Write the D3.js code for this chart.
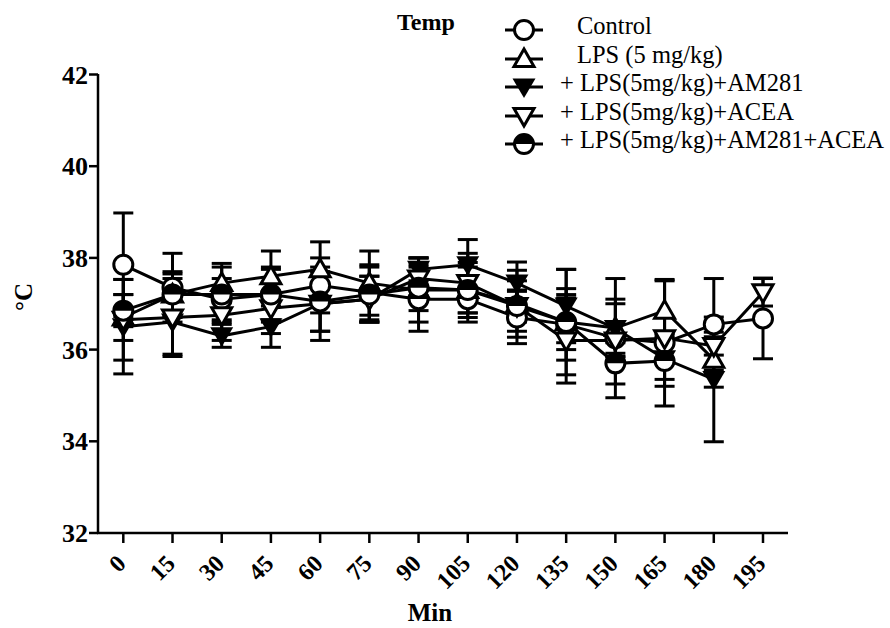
<!DOCTYPE html>
<html>
<head>
<meta charset="utf-8">
<script src="https://cdn.jsdelivr.net/npm/d3@7"></script>
<style>
body{margin:0;background:#fff;}
svg{display:block;}
</style>
</head>
<body>
<div id="container"></div>
<script>
let w=890;
let h=628;

// time points (min)
let minutes=[0,15,30,45,60,75,90,105,120,135,150,165,180,195];
let yTicks=[32,34,36,38,40,42];

// series means and SEM
let controlMean=[37.85,37.35,37.1,37.2,37.4,37.25,37.1,37.1,36.7,36.55,36.25,36.15,36.55,36.68];
let controlSem=[1.13,0.75,0.45,0.55,0.6,0.6,0.7,0.5,0.57,0.78,1.3,1.38,1.0,0.88];
let lpsMean=[36.7,37.2,37.45,37.6,37.75,37.45,37.3,37.3,37.0,36.6,36.47,36.85,35.78];
let lpsSem=[0.5,0.45,0.43,0.55,0.6,0.7,0.7,0.5,0.73,0.6,0.63,0.65,0.6];
let am281Mean=[36.5,36.6,36.3,36.5,37.0,37.1,37.75,37.85,37.45,36.95,36.46,35.8,35.35];
let am281Sem=[1.03,0.7,0.25,0.45,0.6,0.5,0.25,0.55,0.46,0.8,0.54,0.45,1.36];
let aceaMean=[36.65,36.7,36.75,36.9,37.0,37.1,37.55,37.45,36.95,36.2,36.2,36.25,36.08,37.25];
let aceaSem=[0.88,0.85,0.55,0.55,0.8,0.5,0.45,0.65,0.55,0.93,0.35,0.1,0.2,0.3];
let comboMean=[36.85,37.2,37.2,37.2,37.05,37.2,37.35,37.3,36.95,36.6,35.7,35.75];
let comboSem=[0.35,0.5,0.6,0.6,0.65,0.6,0.5,0.6,0.35,1.15,0.45,0.55];

let labels=["Control","LPS (5 mg/kg)","+ LPS(5mg/kg)+AM281","+ LPS(5mg/kg)+ACEA","+ LPS(5mg/kg)+AM281+ACEA"];
let symbols=["circle","triUp","triDownFill","triDown","half"];

let series=[
  {mean:controlMean,sem:controlSem},
  {mean:lpsMean,sem:lpsSem},
  {mean:am281Mean,sem:am281Sem},
  {mean:aceaMean,sem:aceaSem},
  {mean:comboMean,sem:comboSem}
].map(function(s,i){
  return {label:labels[i],sym:symbols[i],
    pts:s.mean.map(function(m,j){return {t:minutes[j],m:m,e:s.sem[j]};})};
});

let x=d3.scaleLinear().domain([0,195]).range([123.3,763]);
let y=d3.scaleLinear().domain([32,42]).range([533,74.5]);

let serif="'Liberation Serif','Times New Roman',serif";

let viz=d3.select("#container").append("svg")
  .attr("width",w).attr("height",h);

// axes
let xAxis=viz.append("g").attr("transform","translate(0,533)");
xAxis.append("line").attr("x1",97).attr("x2",788).attr("stroke","black").attr("stroke-width",2.5);
xAxis.selectAll(".xt").data(minutes).enter().append("line")
  .attr("x1",x).attr("x2",x).attr("y1",0).attr("y2",10)
  .attr("stroke","black").attr("stroke-width",2.5);
xAxis.selectAll(".xl").data(minutes).enter().append("text")
  .text(function(d){return d;})
  .attr("transform",function(d){return "translate("+(x(d)+4)+",32) rotate(-45)";})
  .attr("text-anchor","end")
  .attr("font-family",serif).attr("font-weight","bold").attr("font-size",24);

let yAxis=viz.append("g").attr("transform","translate(98,0)");
yAxis.append("line").attr("y1",74).attr("y2",534).attr("stroke","black").attr("stroke-width",2.5);
yAxis.selectAll(".yt").data(yTicks).enter().append("line")
  .attr("x1",-9).attr("x2",0).attr("y1",y).attr("y2",y)
  .attr("stroke","black").attr("stroke-width",2.5);
yAxis.selectAll(".yl").data(yTicks).enter().append("text")
  .text(function(d){return d;})
  .attr("x",-10).attr("y",function(d){return y(d)+9;})
  .attr("text-anchor","end")
  .attr("font-family",serif).attr("font-weight","bold").attr("font-size",26);

viz.append("text").text("Min").attr("x",430).attr("y",621).attr("text-anchor","middle")
  .attr("font-family",serif).attr("font-weight","bold").attr("font-size",25);
viz.append("text").text("\u00B0C").attr("transform","translate(32,297) rotate(-90)")
  .attr("text-anchor","middle")
  .attr("font-family",serif).attr("font-weight","bold").attr("font-size",25);
viz.append("text").text("Temp").attr("x",397).attr("y",30)
  .attr("font-family",serif).attr("font-weight","bold").attr("font-size",24);

// markers
function drawSymbol(g,sym){
  if(sym=="circle"){
    g.append("circle").attr("r",9.5).attr("fill","white").attr("stroke","black").attr("stroke-width",3);
  }else if(sym=="half"){
    g.append("circle").attr("r",9.5).attr("fill","white").attr("stroke","black").attr("stroke-width",3);
    g.append("path").attr("d","M-9.5,0 A9.5,9.5 0 0,1 9.5,0 Z").attr("fill","black");
  }else if(sym=="triUp"){
    g.append("path").attr("d","M0,-10 L10,7.5 L-10,7.5 Z").attr("fill","white").attr("stroke","black").attr("stroke-width",3);
  }else if(sym=="triDown"){
    g.append("path").attr("d","M0,10 L10,-7.5 L-10,-7.5 Z").attr("fill","white").attr("stroke","black").attr("stroke-width",3);
  }else{
    g.append("path").attr("d","M0,11 L11.5,-8.5 L-11.5,-8.5 Z").attr("fill","black");
  }
}

let plot=viz.append("g");
// error bars
series.forEach(function(s){
  let eb=plot.append("g").selectAll("g").data(s.pts).enter().append("g");
  eb.append("line").attr("x1",function(d){return x(d.t);}).attr("x2",function(d){return x(d.t);})
    .attr("y1",function(d){return y(d.m+d.e);}).attr("y2",function(d){return y(d.m-d.e);})
    .attr("stroke","black").attr("stroke-width",3);
  [1,-1].forEach(function(sg){
    eb.append("line").attr("x1",function(d){return x(d.t)-10;}).attr("x2",function(d){return x(d.t)+10;})
      .attr("y1",function(d){return y(d.m+sg*d.e);}).attr("y2",function(d){return y(d.m+sg*d.e);})
      .attr("stroke","black").attr("stroke-width",3);
  });
});
// lines
let line=d3.line().x(function(d){return x(d.t);}).y(function(d){return y(d.m);});
series.forEach(function(s){
  plot.append("path").attr("d",line(s.pts)).attr("fill","none").attr("stroke","black").attr("stroke-width",3);
});
// points
series.forEach(function(s){
  plot.append("g").selectAll("g").data(s.pts).enter().append("g")
    .attr("transform",function(d){return "translate("+x(d.t)+","+y(d.m)+")";})
    .each(function(){drawSymbol(d3.select(this),s.sym);});
});

// legend
let legendY=[30,59,87,116,144];
let legendX=[577,577,560,560,560];
let leg=viz.selectAll(".leg").data(series).enter().append("g")
  .attr("transform",function(d,i){return "translate(524,"+legendY[i]+")";});
leg.append("line").attr("x1",-19).attr("x2",19).attr("stroke","black").attr("stroke-width",3);
leg.each(function(d){drawSymbol(d3.select(this),d.sym);});
leg.append("text").text(function(d){return d.label;})
  .attr("x",function(d,i){return legendX[i]-524;}).attr("y",4)
  .attr("font-family",serif).attr("font-size",24.5);
</script>
</body>
</html>
